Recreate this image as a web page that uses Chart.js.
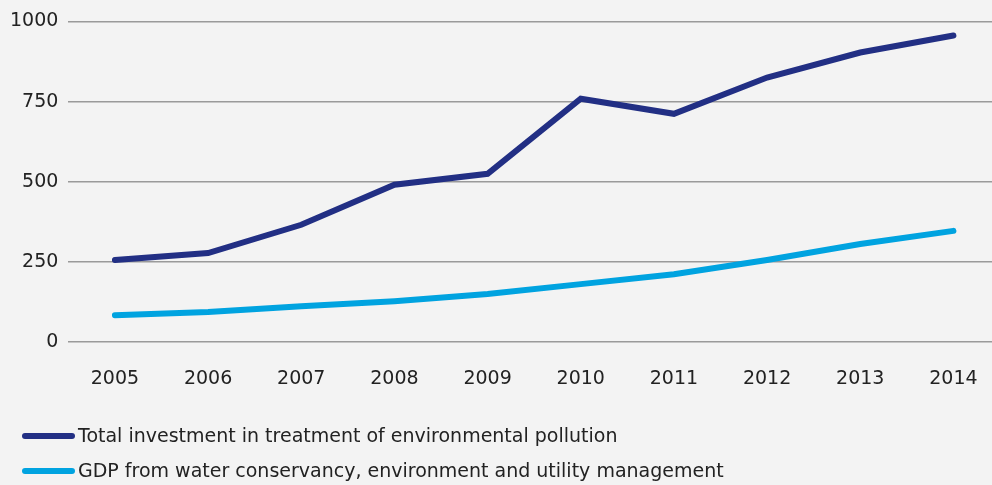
<!DOCTYPE html>
<html>
<head>
<meta charset="utf-8">
<script src="https://cdn.jsdelivr.net/npm/chart.js@4/dist/chart.umd.min.js"></script>
<style>
  html, body { margin: 0; padding: 0; background: #f3f3f3; overflow: hidden; }
  #wrap { width: 1000px; height: 485px; }
</style>
</head>
<body>
<div id="wrap"><canvas id="pollutionChart"></canvas></div>
<script>
const years = ["2005", "2006", "2007", "2008", "2009", "2010", "2011", "2012", "2013", "2014"];
const investment = [256, 278, 366, 491, 525, 759, 712, 825, 903, 956];
const utilityGdp = [84, 94, 112, 128, 150, 181, 212, 256, 306, 347];
const yTicks = [0, 250, 500, 750, 1000];

const navy = "#222f84";
const cyan = "#00a3e0";
const fontFamily = "'DejaVu Sans', sans-serif";
const fontSize = 19;

// legend drawn below the axis: short round-capped line swatch followed by the label
const lineLegend = {
  id: "lineLegend",
  afterDraw(chart) {
    const ctx = chart.ctx;
    const rowY = [436, 471];
    ctx.save();
    ctx.font = fontSize + "px " + fontFamily;
    ctx.textBaseline = "middle";
    ctx.textAlign = "left";
    chart.data.datasets.forEach((ds, i) => {
      const y = rowY[i];
      ctx.strokeStyle = ds.borderColor;
      ctx.lineWidth = 6;
      ctx.lineCap = "round";
      ctx.beginPath();
      ctx.moveTo(25, y);
      ctx.lineTo(72, y);
      ctx.stroke();
      ctx.fillStyle = "#222";
      ctx.fillText(ds.label, 78, y + 1);
    });
    ctx.restore();
  }
};

new Chart(document.getElementById("pollutionChart"), {
  type: "line",
  data: {
    labels: years,
    datasets: [
      {
        label: "Total investment in treatment of environmental pollution",
        data: investment,
        borderColor: navy,
        backgroundColor: navy,
        borderWidth: 6,
        borderCapStyle: "round",
        pointRadius: 0,
        tension: 0
      },
      {
        label: "GDP from water conservancy, environment and utility management",
        data: utilityGdp,
        borderColor: cyan,
        backgroundColor: cyan,
        borderWidth: 6,
        borderCapStyle: "round",
        pointRadius: 0,
        tension: 0
      }
    ]
  },
  options: {
    responsive: true,
    maintainAspectRatio: false,
    animation: false,
    layout: { padding: { top: 13, left: 0, right: 0, bottom: 78 } },
    plugins: {
      tooltip: { enabled: false },
      legend: { display: false }
    },
    scales: {
      x: {
        offset: true,
        grid: { display: false },
        border: { display: false },
        ticks: {
          color: "#222",
          font: { family: fontFamily, size: fontSize },
          padding: 17,
          maxRotation: 0
        }
      },
      y: {
        min: 0,
        max: 1000,
        afterBuildTicks: axis => { axis.ticks = yTicks.map(v => ({ value: v })); },
        grid: { color: "#9a9a9a", lineWidth: 1.5, drawTicks: false },
        border: { display: false },
        ticks: {
          color: "#222",
          font: { family: fontFamily, size: fontSize },
          padding: 10,
          callback: v => String(v)
        }
      }
    }
  },
  plugins: [lineLegend]
});
</script>
</body>
</html>
